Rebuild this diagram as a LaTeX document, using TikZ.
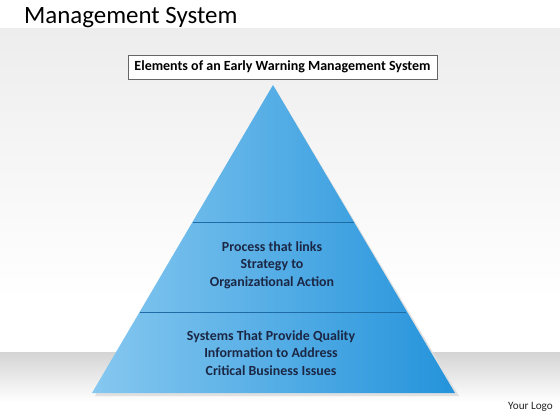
\documentclass[tikz,border=0pt]{standalone}
\usepackage{fontspec}
\setmainfont{Carlito}
\usetikzlibrary{shadings}
\definecolor{pyrL}{HTML}{86C8F0}
\definecolor{pyrR}{HTML}{2493DB}
\definecolor{pyrLine}{HTML}{1F6BA5}
\definecolor{txtNavy}{HTML}{1B2744}
\definecolor{bgTop}{HTML}{EDEDED}
\definecolor{bandGray}{HTML}{D4D4D4}
\tikzset{
  pyrtext/.style={font=\bfseries\fontsize{13.9}{17.3}\selectfont, text=txtNavy, align=center, inner sep=0pt},
  divider/.style={draw=pyrLine, line width=0.8pt},
}
\begin{document}
\begin{tikzpicture}[x=1pt,y=-1pt]
\useasboundingbox (0,0) rectangle (560,420);
% background
\fill[white] (0,0) rectangle (560,420);
\shade[top color=bgTop, bottom color=white] (0,29) rectangle (560,300);
\fill[white] (0,300) rectangle (560,352);
\shade[top color=bandGray, bottom color=white] (0,352) rectangle (560,402);
% title
\node[anchor=west, inner sep=0pt, font=\fontsize{24.9}{28}\selectfont] (title) at (24,18) {Management System};
% pyramid shadow
\fill[black!12] (275,88) -- (459,396) -- (95,396) -- cycle;
% pyramid
\coordinate (apex) at (273,85);
\coordinate (bl) at (92,393);
\coordinate (br) at (455,393);
\shade[left color=pyrL, right color=pyrR] (apex) -- (br) -- (bl) -- cycle;
\coordinate (d1l) at (192.5,222);
\coordinate (d1r) at (353.5,222);
\coordinate (d2l) at (140,312);
\coordinate (d2r) at (406,312);
\draw[divider] (d1l) -- (d1r);
\draw[divider] (d2l) -- (d2r);
% header box
\node[draw=black!60, fill=white, line width=0.6pt, minimum width=309pt, minimum height=24pt, inner sep=0pt, font=\bfseries\fontsize{14}{16}\selectfont] (header) at (282.5,67) {Elements of an Early Warning Management System};
% pyramid texts
\node[pyrtext] (mid) at (272,265) {Process that links\\Strategy to\\Organizational Action};
\node[pyrtext] (low) at (271,353) {Systems That Provide Quality\\Information to Address\\Critical Business Issues};
% logo
\node[anchor=east, inner sep=0pt, font=\fontsize{11.2}{13}\selectfont, text=black!85] (logo) at (553,407) {Your Logo};
\end{tikzpicture}
\end{document}
